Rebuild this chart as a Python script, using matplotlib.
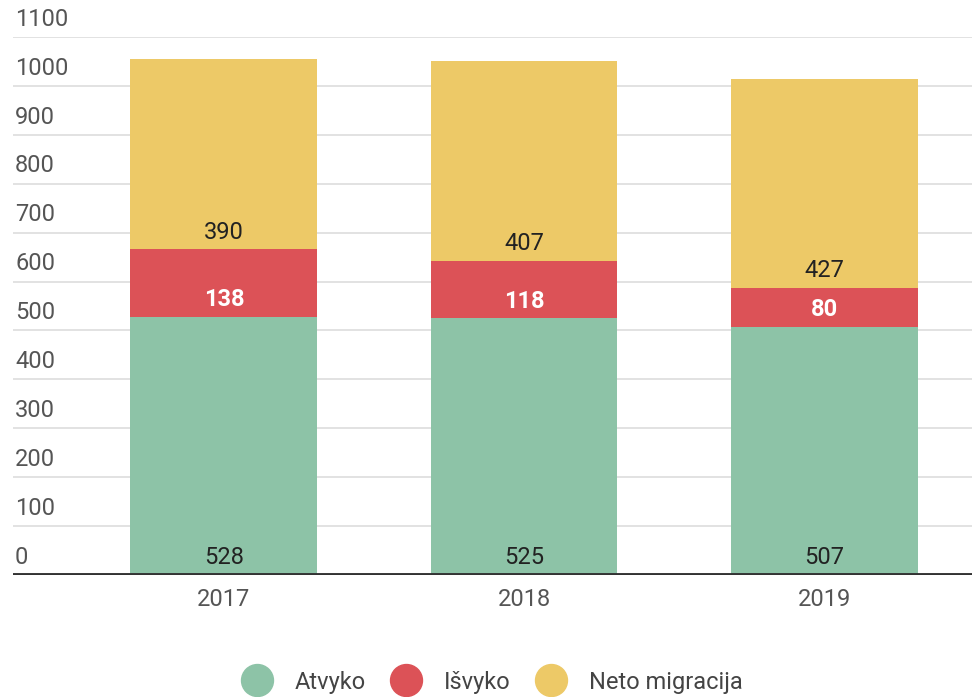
import matplotlib
matplotlib.use("Agg")
import matplotlib.pyplot as plt
from matplotlib.lines import Line2D

plt.rcParams['font.family'] = ['Roboto', 'DejaVu Sans']

years = ["2017", "2018", "2019"]
atvyko = [528, 525, 507]
isvyko = [138, 118, 80]
neto = [390, 407, 427]
series_names = ["Atvyko", "Išvyko", "Neto migracija"]
colors = ["#8DC3A7", "#DC5257", "#EDC967"]
yticks = [0, 100, 200, 300, 400, 500, 600, 700, 800, 900, 1000, 1100]

FS = 17

fig = plt.figure(figsize=(9.72, 6.97), dpi=100)
ax = fig.add_axes([13/972, 1-575/697, 1-13/972, (575-37)/697])

x = list(range(len(years)))
width = 0.623
bottoms = [0]*len(years)
label_colors = ["#222222", "white", "#222222"]
label_weights = ["normal", "bold", "normal"]
for vals, col, name, lc, lw in zip([atvyko, isvyko, neto], colors, series_names, label_colors, label_weights):
    ax.bar(x, vals, width, bottom=bottoms, color=col, label=name, zorder=3)
    for xi, b, v in zip(x, bottoms, vals):
        ax.annotate(str(v), xy=(xi, b), xytext=(0, 4), textcoords="offset points",
                    ha="center", va="bottom", fontsize=FS, color=lc, fontweight=lw, zorder=4)
    bottoms = [b + v for b, v in zip(bottoms, vals)]

ax.set_ylim(0, 1100)
ax.set_xlim(-0.703, 2.493)
for t in yticks:
    if t > 0:
        ax.axhline(t, color="#dddddd", lw=1.2, zorder=1)
    ax.annotate(str(t), xy=(0, t), xycoords=ax.get_yaxis_transform(),
                xytext=(1.5, 4.5), textcoords="offset points", ha="left", va="bottom",
                fontsize=FS, color="#555555")
ax.axhline(0, color="#333333", lw=2.8, zorder=5)

ax.set_yticks([])
ax.set_xticks(x)
ax.set_xticklabels(years, fontsize=FS, color="#555555")
ax.tick_params(axis="x", length=0, pad=9)
for s in ax.spines.values():
    s.set_visible(False)

handles = [Line2D([], [], marker="o", linestyle="none", markersize=23,
                  markerfacecolor=c, markeredgecolor=c) for c in colors]
fig.legend(handles, series_names, loc="center", bbox_to_anchor=(0.507, 1-682/697),
           ncol=3, frameon=False, fontsize=FS, labelcolor="#444444",
           handletextpad=1.0, columnspacing=1.1, handlelength=1.2)

fig.savefig("out.png", dpi=100, facecolor="white")
